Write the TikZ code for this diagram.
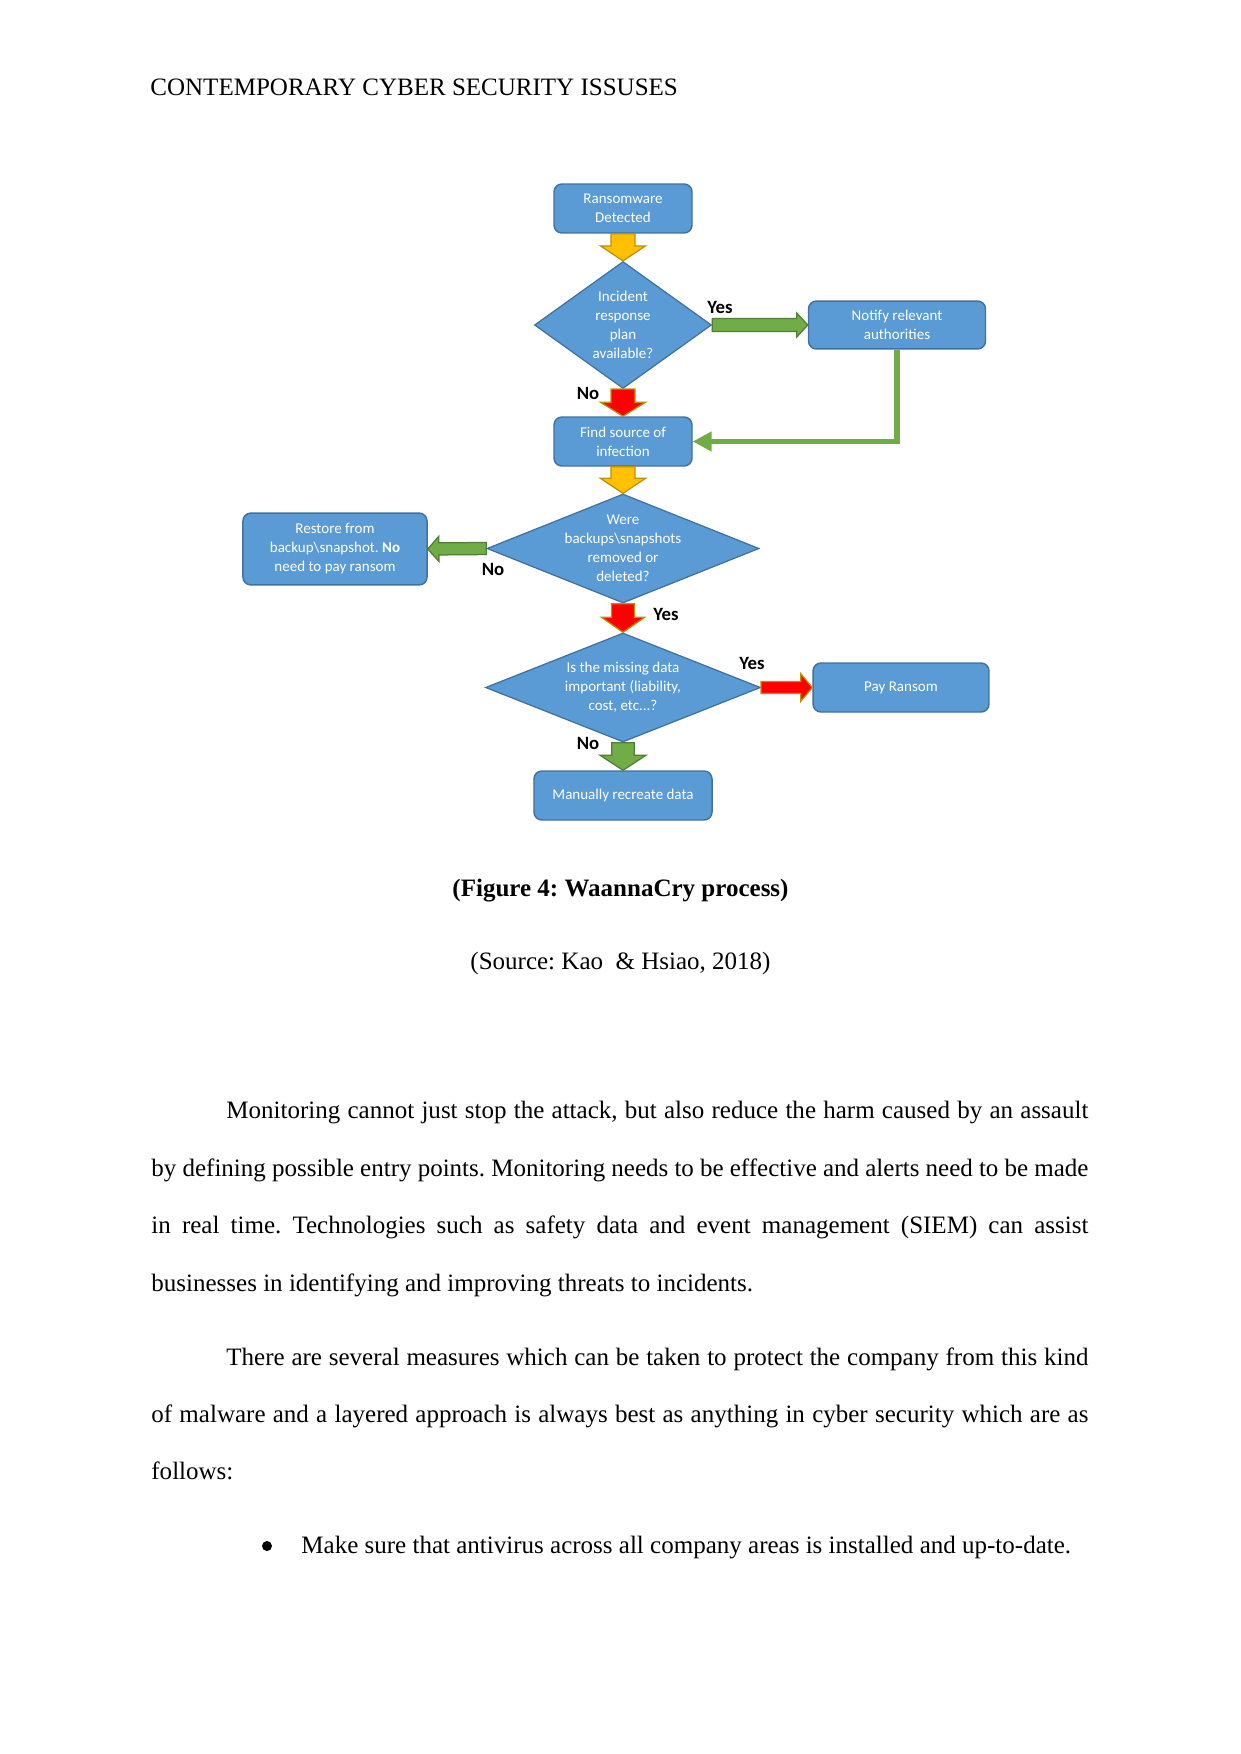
\documentclass[tikz,border=0pt]{standalone}
\usepackage{fontspec}
\setmainfont{Liberation Serif}
\newfontfamily\calibri{Carlito}
\usetikzlibrary{shapes.geometric,calc,arrows.meta}
\frenchspacing

\definecolor{boxblue}{RGB}{91,155,213}
\definecolor{boxedge}{RGB}{65,113,156}
\definecolor{arrgold}{RGB}{255,192,0}
\definecolor{arrred}{RGB}{255,0,0}
\definecolor{arrgreen}{RGB}{112,173,71}
\definecolor{edgegold}{RGB}{191,144,0}
\definecolor{edgegreen}{RGB}{80,126,50}

\tikzset{
  flowbox/.style={draw=boxedge, fill=boxblue, line width=0.7pt, rounded corners=3.8pt,
    text=white, font=\calibri\fontsize{7.2}{9.1}\selectfont, align=center, inner sep=0pt},
  dia/.style={draw=boxedge, fill=boxblue, line width=0.6pt, shape=diamond, inner sep=0pt},
  dtext/.style={text=white, font=\calibri\fontsize{7.2}{9.1}\selectfont, align=center, inner sep=0pt},
  lbl/.style={font=\calibri\bfseries\fontsize{9}{10}\selectfont, inner sep=0pt},
  body/.style={font={\fontsize{12}{14}\selectfont\frenchspacing\spaceskip=3pt plus 6pt minus 1.5pt},
    anchor=base west, inner sep=0pt},
  yarr/.style={fill=arrgold, draw=edgegold, line width=0.6pt},
  rarr/.style={fill=arrred, draw=edgegold, line width=0.6pt},
  garr/.style={fill=arrgreen, draw=edgegreen, line width=0.6pt},
  gline/.style={draw=arrgreen, line width=2.7pt, -{Triangle[width=9.1pt,length=9.1pt]}}
}

% block arrow: style, from, to, shaft half width, head half width, head length
\newcommand{\blockarrow}[6]{%
  \coordinate (hb) at ($(#3)!#6!(#2)$);
  \filldraw[#1] ($(#2)!#4!90:(#3)$) -- ($(hb)!#4!90:(#3)$) -- ($(hb)!#5!90:(#3)$) -- (#3)
    -- ($(hb)!#5!-90:(#3)$) -- ($(hb)!#4!-90:(#3)$) -- ($(#2)!#4!-90:(#3)$) -- cycle;}

\begin{document}
\begin{tikzpicture}[x=0.4797pt, y=-0.4797pt]
    \fill[white] (0,0) rectangle (1241,1754);
    \useasboundingbox (0,0) rectangle (1241,1754);

    % Page header
    \node[body] (head) at (150,96) {CONTEMPORARY CYBER SECURITY ISSUSES};

    % Boxes
    \node[flowbox, minimum width=66.2pt, minimum height=23.5pt] (det) at (623,208.5) {Ransomware\\Detected};
    \node[flowbox, minimum width=84.9pt, minimum height=23pt] (notify) at (897,325) {Notify relevant\\authorities};
    \node[flowbox, minimum width=66.2pt, minimum height=23.5pt] (find) at (623,441.5) {Find source of\\infection};
    \node[flowbox, minimum width=88.3pt, minimum height=34.5pt] (restore) at (335,549) {Restore from\\backup\textbackslash snapshot. {\bfseries No}\\need to pay ransom};
    \node[flowbox, minimum width=84.4pt, minimum height=23.5pt] (pay) at (901,687.5) {Pay Ransom};
    \node[flowbox, minimum width=85.4pt, minimum height=23.5pt] (manual) at (623,795.5) {Manually recreate data};

    % Decisions
    \node[dia, minimum width=84.9pt, minimum height=60.9pt] (plan) at (623,325) {};
    \node[dtext] (planq) at (plan) {Incident\\response\\plan\\available?};
    \node[dia, minimum width=130.5pt, minimum height=52.3pt] (backup) at (623,548.5) {};
    \node[dtext] (backupq) at (backup) {Were\\backups\textbackslash snapshots\\removed or\\deleted?};
    \node[dia, minimum width=131.9pt, minimum height=52.3pt] (important) at (623,687.5) {};
    \node[dtext] (importantq) at (important) {Is the missing data\\important (liability,\\cost, etc...?};

    % Block arrows
    \blockarrow{yarr}{det.south}{plan.north}{5.75pt}{10.8pt}{7.2pt}
    \blockarrow{rarr}{plan.south}{find.north}{5.75pt}{10.8pt}{6.7pt}
    \blockarrow{garr}{plan.east}{notify.west}{3.1pt}{5.75pt}{5.3pt}
    \blockarrow{yarr}{find.south}{backup.north}{5.75pt}{10.8pt}{7.2pt}
    \blockarrow{garr}{backup.west}{restore.east}{2.9pt}{6pt}{5.3pt}
    \blockarrow{rarr}{backup.south}{important.north}{5.5pt}{10.3pt}{7.2pt}
    \blockarrow{rarr}{important.east}{pay.west}{2.9pt}{6.6pt}{5.5pt}
    \blockarrow{garr}{important.south}{manual.north}{5.4pt}{11pt}{7.2pt}
    \draw[gline] (notify.south) |- (find.east);

    % Branch labels
    \node[lbl] (yes1) at (720,307) {Yes};
    \node[lbl] (no1) at (588,393) {No};
    \node[lbl] (no2) at (493,569) {No};
    \node[lbl] (yes2) at (666,614) {Yes};
    \node[lbl] (yes3) at (752,663) {Yes};
    \node[lbl] (no3) at (588,743) {No};

    % Caption
    \node[body, anchor=base, font=\bfseries\fontsize{12}{14}\selectfont] (cap) at (620.5,896) {(Figure 4: WaannaCry process)};
    \node[body, anchor=base] (src) at (620.5,969) {(Source: Kao\ \ \& Hsiao, 2018)};

    % Body text, one node per line
    \node[body] (p1a) at (226,1118) {\hbox to 413.5pt{Monitoring cannot just stop the attack, but also reduce the harm caused by an assault}};
    \node[body] (p1b) at (151,1176) {\hbox to 449.5pt{by defining possible entry points. Monitoring needs to be effective and alerts need to be made}};
    \node[body] (p1c) at (151,1233) {\hbox to 449.5pt{in real time. Technologies such as safety data and event management (SIEM) can assist}};
    \node[body] (p1d) at (151,1291) {businesses in identifying and improving threats to incidents.};
    \node[body] (p2a) at (226,1365) {\hbox to 413.5pt{There are several measures which can be taken to protect the company from this kind}};
    \node[body] (p2b) at (151,1422) {\hbox to 449.5pt{of malware and a layered approach is always best as anything in cyber security which are as}};
    \node[body] (p2c) at (151,1479) {follows:};

    % Bullet item
    \node[circle, fill=black, inner sep=0pt, minimum size=4.8pt] (dot) at (267,1546) {};
    \node[body] (item) at (301,1553) {Make sure that antivirus across all company areas is installed and up-to-date.};
\end{tikzpicture}
\end{document}
